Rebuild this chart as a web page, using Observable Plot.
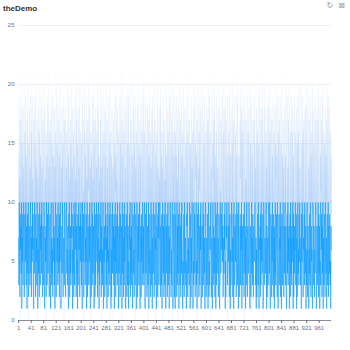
<!DOCTYPE html>
<html>
<head>
<meta charset="utf-8">
<script src="https://cdn.jsdelivr.net/npm/d3@7"></script>
<script src="https://cdn.jsdelivr.net/npm/@observablehq/plot@0.6"></script>
<style>
  body { margin: 0; background: #fff; }
  #wrap { position: relative; width: 350px; height: 350px; font-family: "Liberation Sans", Arial, sans-serif; }
  #title { height: 18px; line-height: 18px; padding-left: 3px; font-size: 8px; font-weight: bold; color: #333; }
  #icons { position: absolute; top: 0; right: 5px; font-size: 8px; color: #999; line-height: 11px; font-family: "DejaVu Sans", sans-serif; }
  #icons span { margin-left: 5px; }
</style>
</head>
<body>
<div id="wrap">
  <div id="title">theDemo</div>
  <div id="icons"><span>↻</span><span>⊠</span></div>
  <div id="chart"></div>
</div>
<script>
const yTicks = [0, 5, 10, 15, 20, 25];
const xTicks = [1, 41, 81, 121, 161, 201, 241, 281, 321, 361, 401, 441, 481, 521, 561, 601, 641, 681, 721, 761, 801, 841, 881, 921, 961];

const seriesA = [
7,3,10,5,2,9,6,8,4,10,1,7,5,9,3,6,10,8,2,4,9,7,5,10,3,8,6,1,9,4,7,10,2,5,8,6,3,9,10,4,7,2,8,5,10,6,9,3,1,7,
4,10,8,6,2,9,5,7,3,10,8,1,6,4,9,7,2,10,5,3,8,6,9,4,10,7,2,5,8,3,6,10,9,1,4,7,5,8,2,10,6,3,9,7,4,10,8,5,2,6,
9,5,1,8,10,3,7,4,6,2,10,9,5,8,3,7,1,6,10,4,2,8,9,5,7,3,10,6,4,8,2,9,5,10,7,1,3,6,8,4,10,9,2,5,7,6,3,10,8,4,
2,7,9,10,4,6,3,8,5,1,9,7,10,2,6,4,8,3,5,10,7,9,1,6,4,8,2,10,5,3,9,7,6,10,2,8,4,5,1,9,3,7,10,6,8,2,4,9,5,10,
6,3,8,1,10,7,5,9,2,4,6,10,8,3,7,5,9,1,4,10,2,6,8,7,3,9,5,10,4,1,8,6,2,7,10,3,9,5,4,8,6,1,10,7,2,9,3,5,8,10,
5,9,2,7,4,10,8,1,6,3,9,5,7,10,2,8,4,6,3,9,10,1,7,5,8,2,4,10,6,9,3,7,1,8,5,10,2,6,4,9,7,3,10,8,5,1,6,2,9,4,
10,4,6,8,3,9,1,7,5,10,2,8,6,4,9,3,10,7,5,1,8,4,6,10,2,9,7,3,5,8,1,10,4,6,9,2,7,3,10,5,8,4,1,6,9,7,2,10,3,5,
8,1,5,3,9,6,10,2,7,4,8,3,10,5,1,7,9,4,6,2,10,8,3,5,9,7,1,4,10,6,2,8,5,9,3,7,10,4,1,6,8,2,9,5,7,3,10,6,4,8,
3,8,10,6,1,5,9,4,10,7,2,6,8,3,5,10,1,9,7,4,6,2,8,10,5,3,9,1,7,6,4,10,8,2,5,9,3,7,6,10,1,4,8,5,2,9,7,10,3,6,
7,10,4,2,8,5,3,9,1,6,10,7,4,8,2,9,5,3,10,6,1,7,8,4,9,2,5,10,3,6,8,1,7,4,10,9,5,2,6,3,8,10,7,1,4,9,6,5,2,10,
1,6,9,7,5,2,10,3,8,4,7,9,1,10,6,3,5,8,2,9,4,10,7,6,1,5,3,8,9,2,10,4,6,7,3,5,1,9,8,10,2,6,4,7,5,3,10,9,1,8,
9,2,7,4,10,8,6,1,5,3,10,4,9,7,2,6,8,10,3,5,1,9,4,6,10,7,2,8,5,3,9,6,10,1,4,7,8,2,5,10,3,9,6,4,7,1,8,10,5,2,
4,7,3,9,6,1,8,10,2,5,3,8,6,9,10,4,2,7,5,1,9,10,3,8,6,4,7,2,10,5,1,9,3,6,8,10,4,7,2,5,9,6,1,3,10,8,4,7,9,6,
10,5,8,2,3,7,4,9,6,10,1,5,2,8,7,10,9,3,4,6,8,5,10,2,7,9,1,6,3,4,10,8,5,7,2,9,6,1,10,3,4,8,7,5,9,2,6,10,8,3,
6,9,1,10,7,4,2,5,8,3,9,6,10,1,4,8,3,7,9,5,2,10,6,4,8,1,7,3,9,10,5,2,8,6,4,7,10,9,3,1,5,8,2,6,10,4,7,3,9,5,
2,8,6,5,9,10,3,4,7,1,6,2,8,9,5,3,10,4,1,7,6,8,2,9,3,10,5,7,4,6,9,1,2,10,8,5,3,7,6,4,9,10,1,8,2,5,7,3,6,10,
8,4,10,3,1,6,9,7,2,8,5,10,3,6,9,2,7,1,8,4,10,3,5,7,9,6,2,10,8,1,4,5,9,3,7,6,10,2,8,4,1,9,5,3,7,10,6,2,8,4,
5,10,3,7,8,2,1,6,9,4,10,3,7,5,8,1,6,9,2,10,4,7,3,8,5,6,10,1,9,2,7,4,8,6,10,3,5,9,1,7,2,8,10,4,6,3,9,5,10,7,
3,6,7,1,9,5,10,8,4,2,7,6,9,3,10,5,4,8,1,6,3,9,10,2,7,8,5,1,6,4,9,3,10,7,2,8,5,6,4,1,10,9,3,7,8,2,6,4,5,10,
9,1,5,8,6,3,7,10,2,9,4,8,1,5,3,10,7,6,9,2,8,4,10,1,7,5,3,9,6,2,10,8,4,7,1,5,9,3,6,10,2,8,7,4,9,3,5,1,8,6
];

const seriesB = [
14,3,19,8,12,0,17,6,21,10,4,15,9,18,2,13,7,20,11,5,16,1,19,8,14,3,12,17,6,21,9,0,15,11,4,18,7,13,2,20,10,16,5,19,8,12,1,14,17,6,
11,19,4,15,7,20,2,13,9,17,0,12,6,18,10,3,16,8,21,5,14,1,11,19,7,13,4,17,9,2,20,15,6,10,18,3,12,8,16,0,14,5,19,11,7,21,2,13,9,16,
5,17,10,1,20,12,8,15,3,19,6,14,11,0,18,7,13,4,16,9,21,2,10,15,6,19,12,3,17,8,14,1,20,11,5,16,9,13,2,18,7,15,4,12,19,0,10,17,6,14,
18,8,13,6,16,2,11,21,4,14,9,19,1,12,7,17,3,15,10,20,5,13,8,18,0,11,16,6,14,3,19,9,12,2,17,7,21,4,15,10,1,18,6,13,9,20,3,16,11,5,
2,15,9,19,5,13,17,0,11,7,20,3,16,10,14,6,19,1,12,8,17,4,15,11,21,2,9,18,5,13,7,16,0,14,10,19,3,12,8,20,6,15,1,17,11,4,18,9,13,7,
16,6,20,11,1,18,4,14,8,12,2,17,9,21,5,13,0,15,7,19,10,3,16,12,6,18,1,14,9,20,4,11,17,7,13,2,19,10,5,15,8,21,0,12,16,6,14,3,18,10,
9,13,0,17,10,6,15,3,19,11,14,5,20,7,12,1,18,9,4,16,13,8,2,19,10,15,6,21,3,11,17,0,14,8,20,5,12,16,1,9,18,4,13,7,19,11,2,15,6,20,
4,19,12,7,15,9,1,20,13,5,17,10,3,14,8,21,6,11,18,2,15,7,19,0,13,9,16,4,12,18,1,10,20,6,15,11,3,17,8,14,5,19,9,1,16,12,7,21,4,13,
20,1,16,13,4,11,19,7,2,15,8,18,12,0,17,5,14,10,20,3,9,16,6,13,1,18,11,7,19,4,15,9,2,21,12,6,17,0,14,10,3,16,8,20,5,13,11,1,18,9,
12,7,18,3,20,8,14,10,16,0,13,6,19,11,4,17,2,12,9,15,1,20,7,14,11,5,18,3,16,10,6,21,13,2,19,8,11,15,4,17,12,0,20,6,14,9,16,3,10,19,
7,16,2,14,9,19,5,12,0,18,10,15,4,20,13,8,1,17,6,11,19,3,14,9,16,0,12,20,7,13,5,18,10,1,15,11,8,19,3,16,6,13,21,9,2,17,12,5,15,8,
15,10,19,5,13,1,16,9,18,6,3,20,11,7,15,12,19,4,14,0,17,10,6,20,8,13,2,16,11,19,9,4,18,7,1,14,20,12,6,10,17,3,15,8,19,13,0,11,16,4,
1,18,8,12,17,4,20,6,11,14,19,2,16,9,0,13,7,21,10,5,15,12,18,3,17,6,20,9,14,1,11,16,4,19,8,13,10,2,18,15,5,12,20,7,11,3,17,9,14,19,
13,5,15,20,2,16,10,18,7,3,12,19,8,17,11,6,14,0,19,13,4,9,16,1,20,10,14,7,5,18,12,3,15,9,21,6,17,11,0,13,19,8,4,16,10,14,2,20,7,12,
19,11,6,1,14,9,3,17,12,20,5,8,18,2,16,10,20,7,13,17,11,0,19,15,4,12,8,17,2,14,20,7,11,16,3,18,9,1,13,20,10,15,6,19,12,1,14,8,17,3,
6,14,17,10,19,7,13,2,15,9,18,12,1,16,5,19,11,3,15,8,20,14,10,6,18,2,13,17,9,21,0,15,7,12,18,4,14,20,10,5,16,9,13,2,18,11,6,19,1,15,
10,20,3,16,8,12,18,11,5,17,1,14,10,19,7,4,16,13,2,18,8,15,12,20,3,14,6,11,19,10,16,2,17,13,6,19,1,10,15,8,20,11,3,14,7,17,10,13,4,18,
17,2,14,9,21,3,11,15,19,8,13,4,17,6,20,15,9,1,12,16,6,19,4,13,16,8,18,1,14,6,12,19,9,3,16,13,7,18,11,2,15,6,19,10,16,4,20,8,13,11,
3,12,20,6,11,15,7,19,1,16,9,17,13,3,10,18,5,14,20,7,12,18,1,9,15,20,4,13,8,17,3,11,19,10,14,1,16,6,20,12,9,18,7,11,15,2,13,19,6,17,
14,9,11,18,4,17,13,5,20,12,7,1,15,19,8,14,11,17,3,19,10,6,20,13,2,16,9,15,12,5,18,10,14,4,17,9,12,20,2,16,19,7,10,15,18,3,12,16,9,14
];

const dataA = seriesA.map((v, i) => ({x: i + 1, y: v}));
const dataB = seriesB.map((v, i) => ({x: i + 1, y: v}));

function gradientDefs(index, scales) {
  const y = scales.y;
  const defs = d3.create("svg:defs");
  const g = defs.append("linearGradient")
    .attr("id", "lightGrad")
    .attr("gradientUnits", "userSpaceOnUse")
    .attr("x1", 0).attr("x2", 0)
    .attr("y1", y(0)).attr("y2", y(21.5));
  g.append("stop").attr("offset", "0%").attr("stop-color", "#8fbcf5").attr("stop-opacity", 0.15);
  g.append("stop").attr("offset", "45%").attr("stop-color", "#8fbcf5").attr("stop-opacity", 0.6);
  g.append("stop").attr("offset", "100%").attr("stop-color", "#8fbcf5").attr("stop-opacity", 0);
  return defs.node();
}

const chart = Plot.plot({
  width: 350,
  height: 332,
  marginTop: 7,
  marginBottom: 30,
  marginLeft: 18,
  marginRight: 19,
  style: {fontSize: "6px", fontFamily: "Liberation Sans, Arial, sans-serif", background: "#fff"},
  x: {type: "linear", domain: [0.5, 1000.5]},
  y: {domain: [0, 25]},
  marks: [
    gradientDefs,
    Plot.gridY(yTicks, {stroke: "#e0e6f1", strokeOpacity: 1, strokeWidth: 0.6}),
    Plot.line(dataB, {x: "x", y: "y", stroke: "url(#lightGrad)", strokeWidth: 0.5}),
    Plot.line(dataA, {x: "x", y: "y", stroke: "#0a9cff", strokeWidth: 0.6}),
    Plot.ruleY([0], {stroke: "#6e7079", strokeWidth: 0.8}),
    Plot.axisY(yTicks, {tickSize: 0, tickPadding: 4, fill: "#6e7079", label: null}),
    Plot.axisX(xTicks, {tickSize: 3, tickPadding: 2, stroke: "#6e7079", fill: "#6e7079", tickFormat: d => String(d), label: null})
  ]
});
document.getElementById("chart").appendChild(chart);
</script>
</body>
</html>
